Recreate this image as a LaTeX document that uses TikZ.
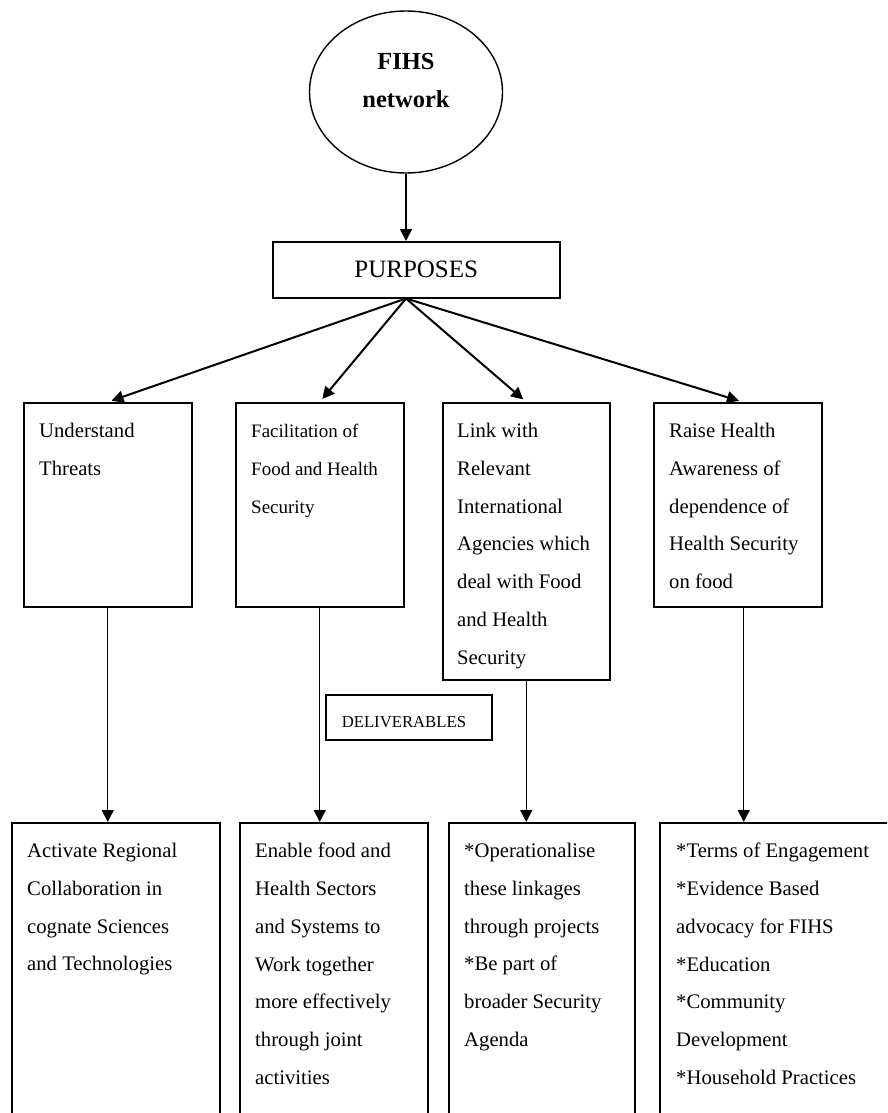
\documentclass[tikz,border=0pt]{standalone}
\usepackage{fontspec}
\setmainfont{Liberation Serif}
\usetikzlibrary{shapes,arrows.meta,positioning}

\begin{document}
\begin{tikzpicture}[x=1pt, y=-1pt, >={Triangle[length=12pt,width=12pt]},
  box/.style={draw, line width=1.5pt, rectangle, anchor=north west, inner sep=0pt},
  txt/.style={anchor=north west, inner sep=0pt, align=left, font=\fontsize{20.7}{37.8}\selectfont},
  link/.style={->, line width=1.4pt},
  fanlink/.style={->, line width=2pt, shorten >=4pt}]
\useasboundingbox (0,0) rectangle (887,1113);
\clip (0,0) rectangle (887,1113);

\node [ellipse, draw, line width=1.4pt, minimum width=193pt, minimum height=162pt] (net) at (406,92) {};
\node [align=center, font=\fontsize{24.5}{38}\selectfont\bfseries] (nettxt) at ([yshift=11pt]net.center) {FIHS\\network};

\node [box, minimum width=287pt, minimum height=56pt, font=\fontsize{25}{30}\selectfont] (purp) at (272,241) {PURPOSES};
\coordinate (fan) at (net.south |- purp.south);

\node [box, minimum width=168pt, minimum height=204pt] (u1) at (23,402) {};
\node [box, minimum width=168pt, minimum height=204pt] (u2) at (235,402) {};
\node [box, minimum width=167pt, minimum height=277pt] (u3) at (442,402) {};
\node [box, minimum width=168pt, minimum height=204pt] (u4) at (653,402) {};

\node [txt] (u1txt) at ([xshift=16pt, yshift=-21pt]u1.north west) {Understand\\Threats};
\node [txt, font=\fontsize{19}{37.8}\selectfont] (u2txt) at ([xshift=16pt, yshift=-22pt]u2.north west) {Facilitation of\\Food and Health\\Security};
\node [txt] (u3txt) at ([xshift=15pt, yshift=-21pt]u3.north west) {Link with\\Relevant\\International\\Agencies which\\deal with Food\\and Health\\Security};
\node [txt] (u4txt) at ([xshift=16pt, yshift=-21pt]u4.north west) {Raise Health\\Awareness of\\dependence of\\Health Security\\on food};

\node [box, minimum width=166pt, minimum height=45pt, text width=134pt, align=left, text height=21pt, text depth=0pt, font=\fontsize{16.7}{20}\selectfont] (deliv) at (325,694) {DELIVERABLES};

\node [box, minimum width=208pt, minimum height=320pt] (l1) at (11,822) {};
\node [box, minimum width=188pt, minimum height=320pt] (l2) at (239,822) {};
\node [box, minimum width=186pt, minimum height=320pt] (l3) at (448,822) {};
\node [box, minimum width=250pt, minimum height=320pt] (l4) at (659,822) {};

\node [txt] (l1txt) at ([xshift=16pt, yshift=-21pt]l1.north west) {Activate Regional\\Collaboration in\\cognate Sciences\\and Technologies};
\node [txt] (l2txt) at ([xshift=16pt, yshift=-21pt]l2.north west) {Enable food and\\Health Sectors\\and Systems to\\Work together\\more effectively\\through joint\\activities};
\node [txt] (l3txt) at ([xshift=16pt, yshift=-21pt]l3.north west) {*Operationalise\\these linkages\\through projects\\*Be part of\\broader Security\\Agenda};
\node [txt] (l4txt) at ([xshift=17pt, yshift=-21pt]l4.north west) {*Terms of Engagement\\*Evidence Based\\advocacy for FIHS\\*Education\\*Community\\Development\\*Household Practices};

% arrows
\draw [link] (net.south) -- (net.south |- purp.north);
\draw [fanlink] (fan) -- (u1.north);
\draw [fanlink] (fan) -- (u2.north);
\draw [fanlink] (fan) -- (u3.north);
\draw [fanlink] (fan) -- ([xshift=5pt]u4.north);

\draw [link] (u1.south) -- (u1.south |- l1.north);
\draw [link] (u2.south) -- (u2.south |- l2.north);
\draw [link] (u3.south) -- (u3.south |- l3.north);
\draw [link] ([xshift=6pt]u4.south) -- ([xshift=6pt]u4.south |- l4.north);

\end{tikzpicture}
\end{document}
